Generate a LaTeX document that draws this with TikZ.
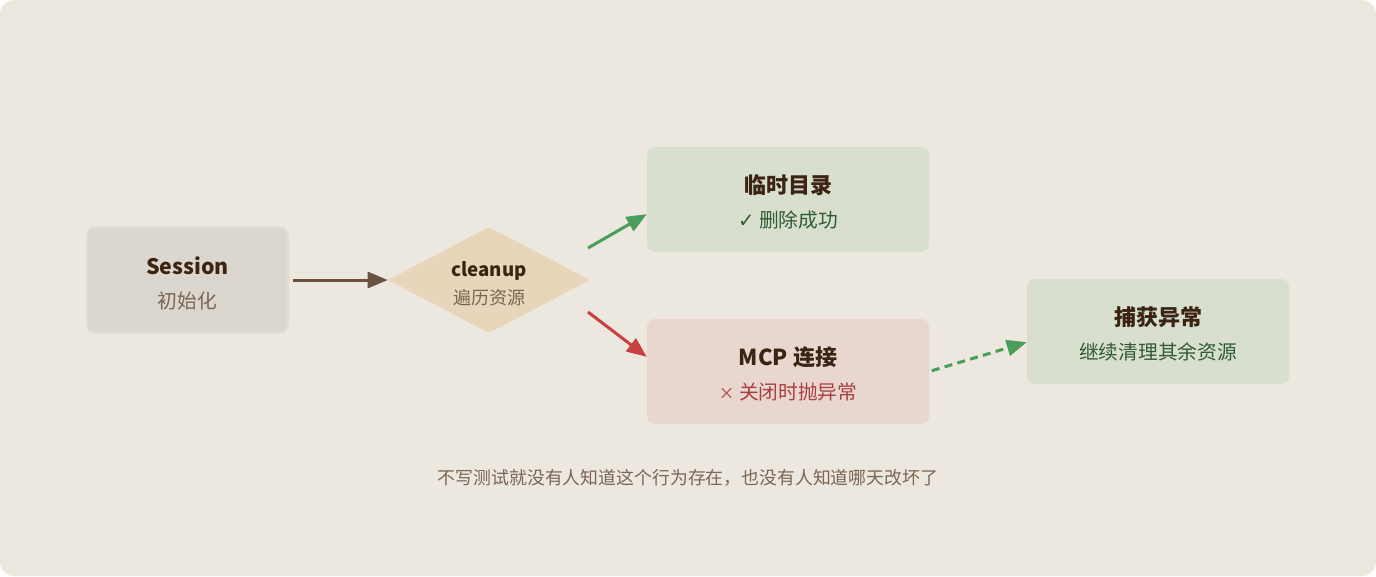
\documentclass[tikz,border=0pt]{standalone}
\usepackage{fontspec}
\setmainfont{Noto Sans CJK SC}
\newfontfamily\symfont{DejaVu Sans}
\usetikzlibrary{arrows.meta,shapes.geometric,calc}

\definecolor{paper}{HTML}{ECE7DF}
\definecolor{inkdark}{HTML}{3B2412}
\definecolor{inkmuted}{HTML}{7A6654}
\definecolor{inkgreen}{HTML}{2F5C34}
\definecolor{inkred}{HTML}{A8403F}
\definecolor{boxgray}{HTML}{DBD6CE}
\definecolor{boxsand}{HTML}{E8D6BA}
\definecolor{boxgreen}{HTML}{D8DFCF}
\definecolor{boxred}{HTML}{E8D6CF}
\definecolor{arrowbrown}{HTML}{6B5240}
\definecolor{arrowgreen}{HTML}{4A9D5B}
\definecolor{arrowred}{HTML}{C94040}

\tikzset{
  card/.style={rectangle, rounded corners=6pt, inner sep=0pt, minimum height=78.75pt},
  gate/.style={diamond, fill=boxsand, inner sep=0pt, minimum width=151.5pt, minimum height=79.5pt},
  title/.style={anchor=base, inner sep=0pt, text=inkdark, font=\fontsize{16.5}{18}\selectfont\bfseries},
  sub/.style={anchor=base, inner sep=0pt, font=\fontsize{14.8}{16}\selectfont},
  flow/.style={line width=2.25pt, -{Triangle[length=15pt,width=12pt]}},
}

\begin{document}
\begin{tikzpicture}[x=0.75pt,y=0.75pt,yscale=-1,xscale=1]
\useasboundingbox (0,0) rectangle (1376,576);
\fill [white] (0,0) rectangle (1376,576);
\fill [paper, rounded corners=10.5pt] (0,0) rectangle (1376,576);

% nodes
\node [card, fill=boxgray, draw=boxgray!70!paper, line width=1.5pt, minimum width=150.75pt] (session) at (187.5,280) {};
\node [title, font=\fontsize{16}{18}\selectfont\bfseries] (sessiontitle) at ([yshift=-4.5pt]session.center) {Session};
\node [sub, text=inkmuted] (sessionsub) at ([yshift=21pt]session.center) {初始化};

\node [gate] (cleanup) at (489,280) {};
\node [title, font=\fontsize{14}{16}\selectfont\bfseries] (cleanuptitle) at ([yshift=-3pt]cleanup.center) {cleanup};
\node [sub, text=inkmuted, font=\fontsize{13.5}{15}\selectfont] (cleanupsub) at ([yshift=18pt]cleanup.center) {遍历资源};

\node [card, fill=boxgreen, minimum width=211.5pt] (tmpdir) at (788,199.5) {};
\node [title] (tmpdirtitle) at ([yshift=-4.5pt]tmpdir.center) {临时目录};
\node [sub, text=inkgreen] (tmpdirsub) at ([yshift=21pt]tmpdir.center) {{\symfont\bfseries ✓} 删除成功};

\node [card, fill=boxred, minimum width=211.5pt] (mcp) at (788,371.5) {};
\node [title] (mcptitle) at ([yshift=-4.5pt]mcp.center) {MCP 连接};
\node [sub, text=inkred] (mcpsub) at ([yshift=21pt]mcp.center) {{\fontsize{12}{14}\selectfont ×} 关闭时抛异常};

\node [card, fill=boxgreen, minimum width=196.5pt] (catch) at (1158,331.5) {};
\node [title] (catchtitle) at ([yshift=-4.5pt]catch.center) {捕获异常};
\node [sub, text=inkgreen] (catchsub) at ([yshift=21pt]catch.center) {继续清理其余资源};

\node [anchor=base, inner sep=0pt, text=inkmuted, font=\fontsize{13.4}{15}\selectfont] (caption) at (688,484) {不写测试就没有人知道这个行为存在，也没有人知道哪天改坏了};

% free ends
\coordinate (okfrom) at (588,248);
\coordinate (failfrom) at (588,312);

% connectors
\draw [flow, arrowbrown, shorten <=3pt] (session.east) -- (cleanup.west);
\draw [flow, arrowgreen] (okfrom) -- ([yshift=11pt]tmpdir.west);
\draw [flow, arrowred] (failfrom) -- ([yshift=-11pt]mcp.west);
\draw [flow, arrowgreen, dash pattern={on 6pt off 4pt}, shorten <=2pt] (mcp.east) -- ([yshift=8pt]catch.west);
\end{tikzpicture}
\end{document}
